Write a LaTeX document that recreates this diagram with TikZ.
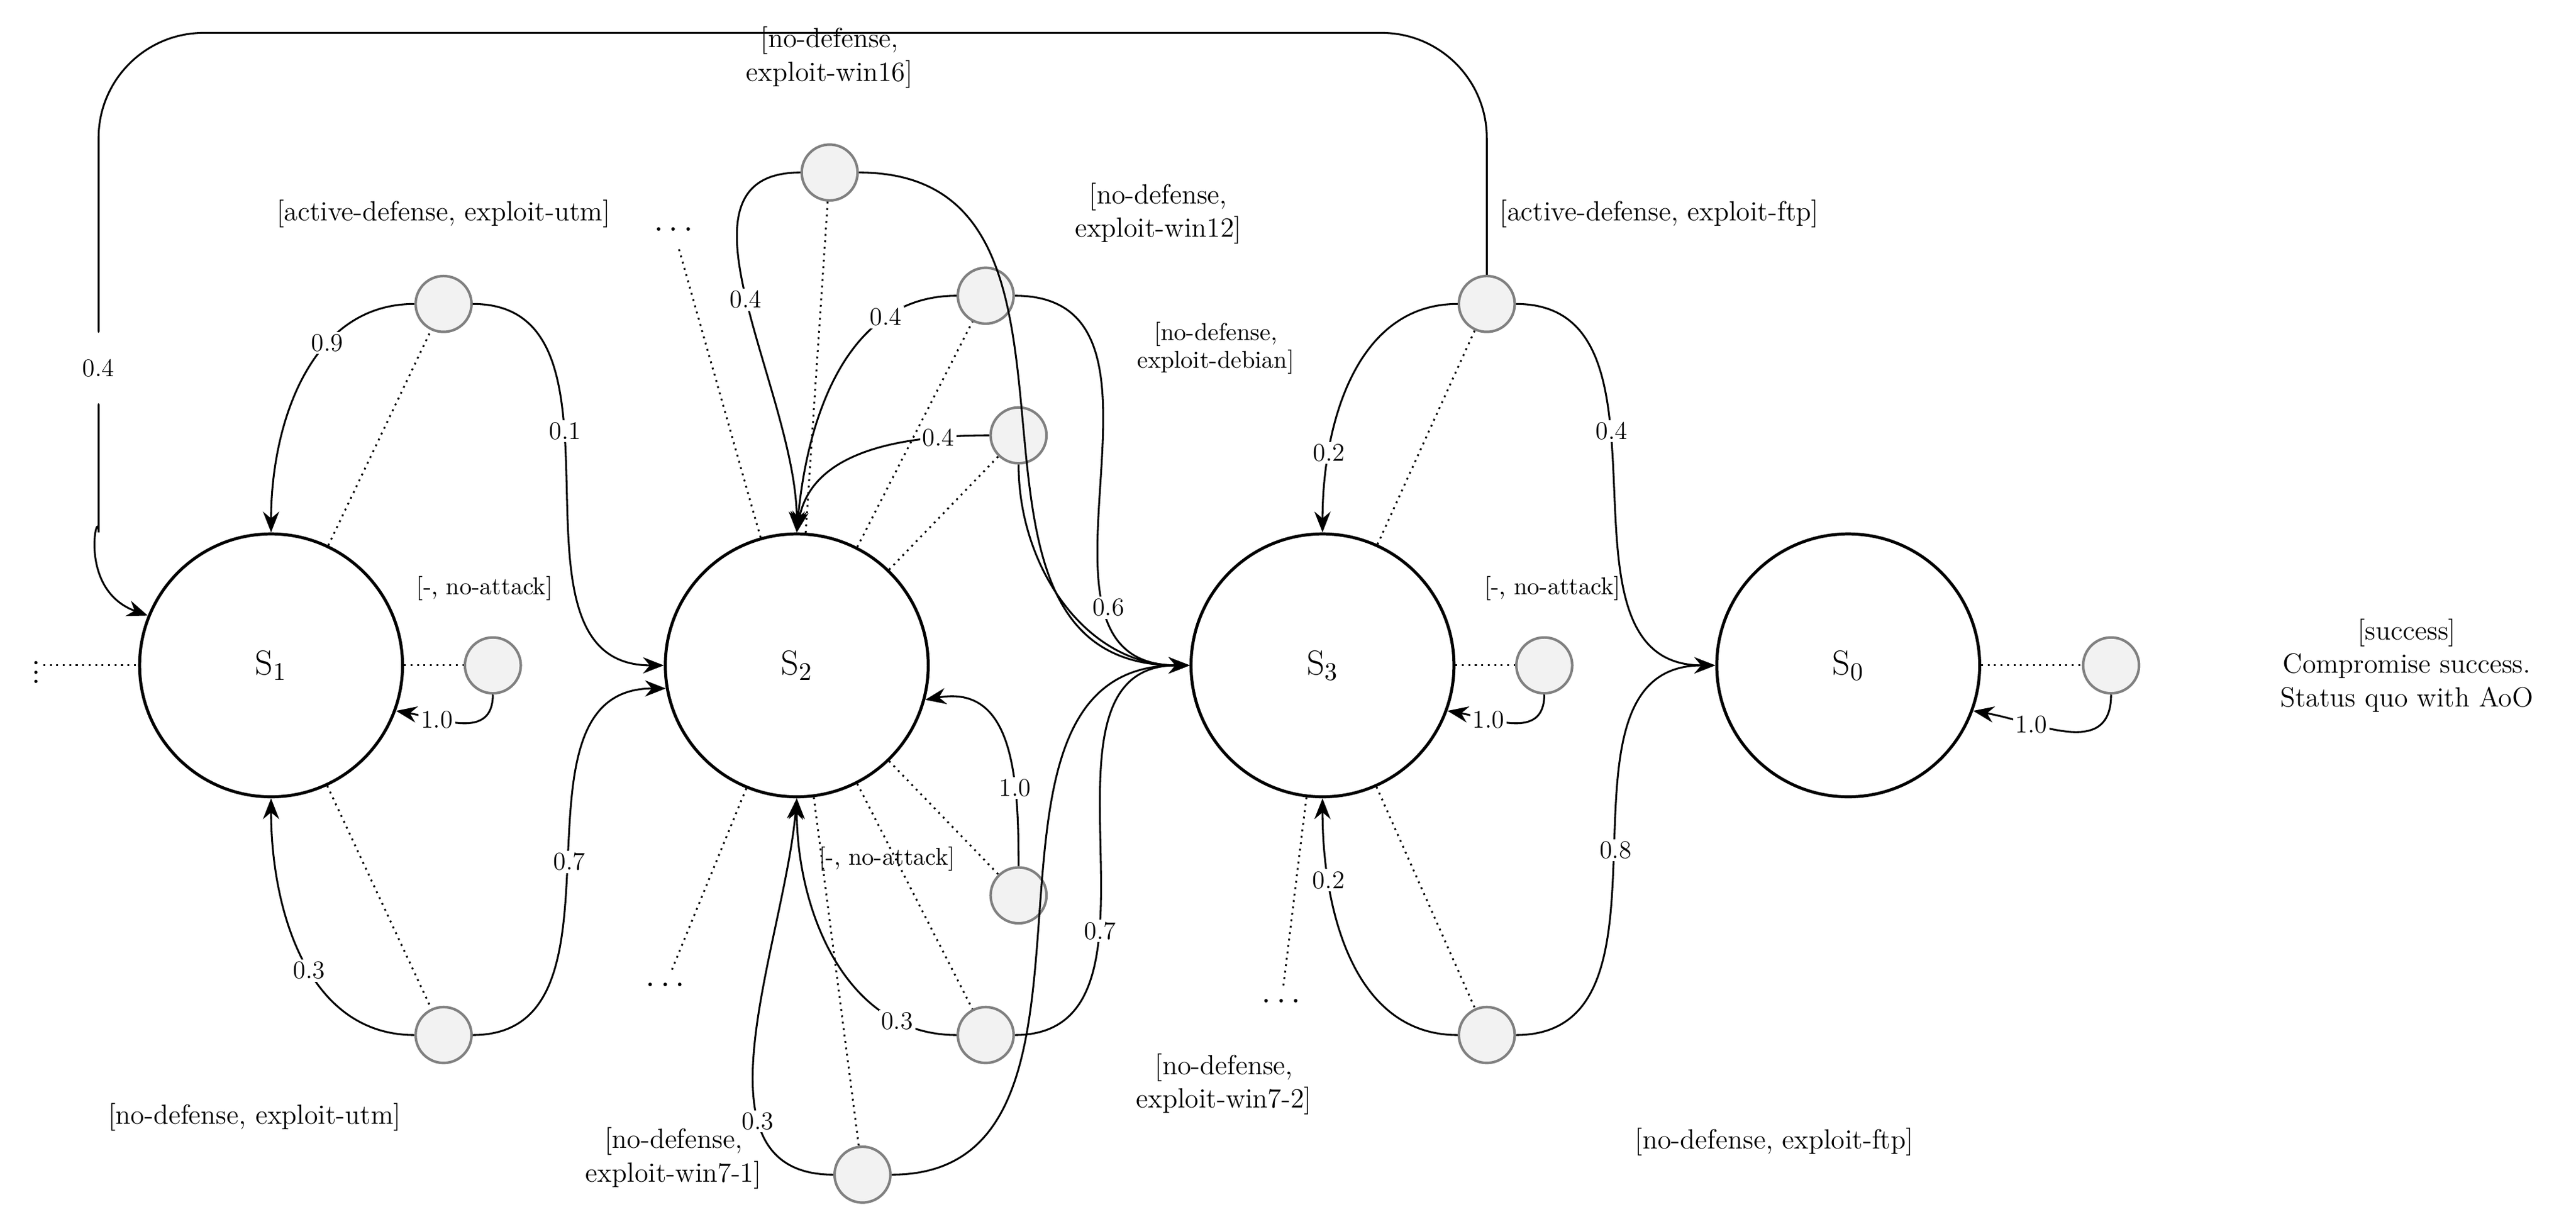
\documentclass[tikz,border=0pt]{standalone}
\usetikzlibrary{arrows.meta}
\tikzset{
  state/.style={draw,circle,line width=1.3pt,minimum size=4cm,font=\fontsize{15}{17}\selectfont},
  act/.style={draw=gray,circle,fill=gray!10,line width=1.1pt,minimum size=0.85cm},
  tr/.style={-{Stealth[length=9pt,width=7pt]},line width=0.8pt},
  dot/.style={dotted,line width=0.8pt},
  prob/.style={fill=white,inner sep=1pt,font=\fontsize{11}{13}\selectfont},
  lab/.style={align=center,font=\fontsize{12}{14.5}\selectfont},
  slab/.style={align=center,font=\fontsize{10.5}{12}\selectfont}
}
\begin{document}
\begin{tikzpicture}[x=0.025cm,y=-0.025cm]
    \useasboundingbox (0,0) rectangle (1568,745);
    %% states
    \node[state] (S1) at (165,405) {S$_1$};
    \node[state] (S2) at (485,405) {S$_2$};
    \node[state] (S3) at (805,405) {S$_3$};
    \node[state] (S0) at (1125,405) {S$_0$};
    %% actions
    \node[act] (a1) at (270,185) {};
    \node[act] (n1) at (270,630) {};
    \node[act] (q1) at (300,405) {};
    \node[act] (w16) at (505,105) {};
    \node[act] (w12) at (600,180) {};
    \node[act] (deb) at (620,265) {};
    \node[act] (q2) at (620,545) {};
    \node[act] (w72) at (600,630) {};
    \node[act] (w71) at (525,715) {};
    \node[act] (af) at (905,185) {};
    \node[act] (nf) at (905,630) {};
    \node[act] (q3) at (940,405) {};
    \node[act] (q0) at (1285,405) {};
    %% ellipses
    \node[font=\Large,inner sep=1pt] (e0) at (22,405) {$\vdots$};
    \node[font=\Large] (e1) at (410,140) {$\cdots$};
    \node[font=\Large] (e2) at (405,600) {$\cdots$};
    \node[font=\Large] (e3) at (780,610) {$\cdots$};
    %% dotted links
    \foreach \s/\a in {S1/a1,S1/n1,S1/q1,S2/w16,S2/w12,S2/deb,S2/q2,S2/w72,S2/w71,S2/e1,S2/e2,S3/af,S3/nf,S3/q3,S3/e3,S0/q0}
        \draw[dot] (\s) -- (\a);
    \draw[dot] (e0.east) -- (S1);
    %% S1
    \draw[tr] (a1.west) to[out=180,in=90] node[prob,pos=0.35] {0.9} (S1.north);
    \draw[tr] (a1.east) to[out=0,in=180,looseness=1.1] node[prob,pos=0.4] {0.1} (S2.west);
    \draw[tr] (n1.west) to[out=180,in=-90] node[prob,pos=0.45] {0.3} (S1.south);
    \draw[tr] (n1.east) to[out=0,in=180,looseness=1.1] node[prob,pos=0.5] {0.7} (S2.190);
    \draw[tr] (q1.south) to[out=-90,in=-10,looseness=1.2] node[prob,pos=0.7] {1.0} (S1.-20);
    \draw[tr,rounded corners=1.6cm] (af.north) |- (60,20) -- node[prob,pos=0.85] {0.4} (60,260)
        [sharp corners] to[out=-90,in=160] (S1.158);
    %% S2
    \draw[tr] (w16.west) to[out=180,in=90] node[prob,pos=0.5] {0.4} (S2.north);
    \draw[tr] (w16.east) to[out=0,in=180,looseness=1.2] (S3.west);
    \draw[tr] (w12.west) to[out=180,in=85] node[prob,pos=0.25] {0.4} (S2.north);
    \draw[tr] (w12.east) to[out=0,in=180,looseness=1.2] node[prob,pos=0.75] {0.6} (S3.west);
    \draw[tr] (deb.west) to[out=180,in=80] node[prob,pos=0.2] {0.4} (S2.north);
    \draw[tr] (deb.south) to[out=-90,in=180] (S3.west);
    \draw[tr] (q2.north) to[out=90,in=10,looseness=1.2] node[prob,pos=0.3] {1.0} (S2.-15);
    \draw[tr] (w72.west) to[out=180,in=-90] node[prob,pos=0.2] {0.3} (S2.south);
    \draw[tr] (w72.east) to[out=0,in=180,looseness=1.1] node[prob,pos=0.35] {0.7} (S3.west);
    \draw[tr] (w71.west) to[out=180,in=-95] node[prob,pos=0.3] {0.3} (S2.south);
    \draw[tr] (w71.east) to[out=0,in=180,looseness=1.1] (S3.west);
    %% S3
    \draw[tr] (af.west) to[out=180,in=90] node[prob,pos=0.75] {0.2} (S3.north);
    \draw[tr] (af.east) to[out=0,in=180,looseness=1.1] node[prob,pos=0.4] {0.4} (S0.west);
    \draw[tr] (nf.west) to[out=180,in=-90] node[prob,pos=0.75] {0.2} (S3.south);
    \draw[tr] (nf.east) to[out=0,in=180,looseness=1.1] node[prob,pos=0.5] {0.8} (S0.west);
    \draw[tr] (q3.south) to[out=-90,in=-10,looseness=1.2] node[prob,pos=0.7] {1.0} (S3.-20);
    \draw[tr] (q0.south) to[out=-90,in=-10,looseness=1.2] node[prob,pos=0.7] {1.0} (S0.-20);
    %% labels
    \node[lab] (la1) at (270,130) {[active-defense, exploit-utm]};
    \node[lab] (ln1) at (155,680) {[no-defense, exploit-utm]};
    \node[slab] (lq1) at (295,358) {[-, no-attack]};
    \node[lab] (lw16) at (505,35) {[no-defense,\\ exploit-win16]};
    \node[lab] (lw12) at (705,130) {[no-defense,\\ exploit-win12]};
    \node[slab] (ldeb) at (740,212) {[no-defense,\\ exploit-debian]};
    \node[slab] (lq2) at (540,523) {[-, no-attack]};
    \node[lab] (lw71) at (410,705) {[no-defense,\\ exploit-win7-1]};
    \node[lab] (lw72) at (745,660) {[no-defense,\\ exploit-win7-2]};
    \node[lab] (laf) at (1010,130) {[active-defense, exploit-ftp]};
    \node[slab] (lq3) at (945,358) {[-, no-attack]};
    \node[lab] (lnf) at (1080,695) {[no-defense, exploit-ftp]};
    \node[lab] (lq0) at (1465,405) {[success]\\ Compromise success.\\ Status quo with AoO};
\end{tikzpicture}
\end{document}
